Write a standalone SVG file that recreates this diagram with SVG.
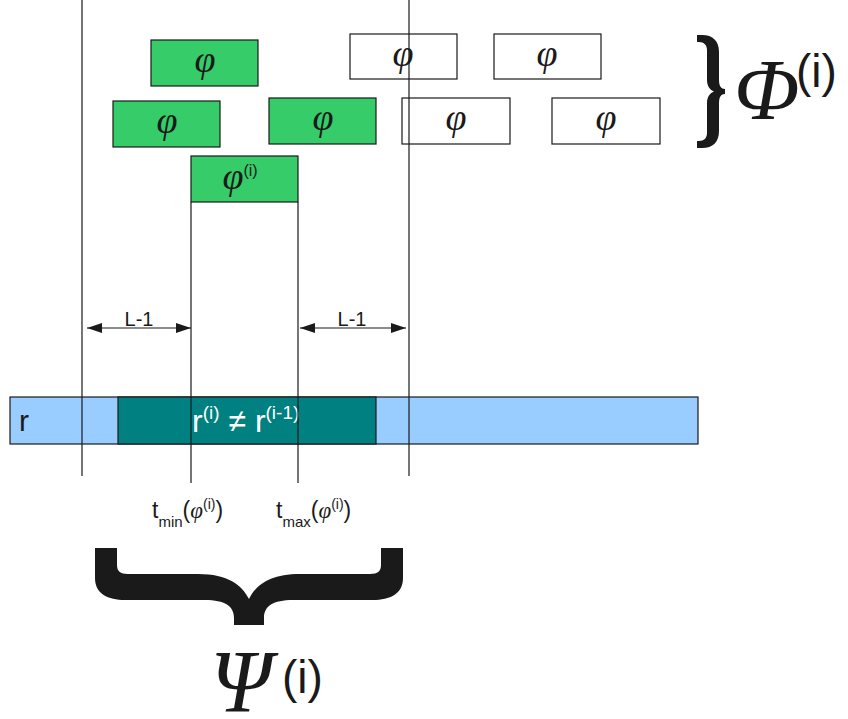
<svg xmlns="http://www.w3.org/2000/svg" width="848" height="719" viewBox="0 0 848 719">
<defs>
<style>
.g{fill:#35cc69;stroke:#1a1a1a;stroke-width:1.2}
.w{fill:#ffffff;stroke:#1a1a1a;stroke-width:1.2}
.phi{font-family:"Liberation Serif",serif;font-style:italic;font-size:38px;fill:#1a1a1a;text-anchor:middle}
.sans{font-family:"Liberation Sans",Arial,sans-serif;fill:#1a1a1a}
.ln{stroke:#1a1a1a;stroke-width:1.2;fill:none}
.br{fill:#1a1a1a}
</style>
<marker id="ah" viewBox="0 0 15 10" refX="15" refY="5" markerWidth="15" markerHeight="10" markerUnits="userSpaceOnUse" orient="auto-start-reverse">
<path d="M0,0 L15,5 L0,10 Z" fill="#1a1a1a"/>
</marker>
</defs>
<rect width="848" height="719" fill="#ffffff"/>

<g id="bar-r">
<rect x="10" y="397" width="688" height="47" fill="#99ccff" stroke="#1a1a1a" stroke-width="1.2"/>
<text x="19" y="431" class="sans" font-size="30">r</text>
</g>
<g id="bar-changed">
<rect x="118" y="397" width="258" height="47" fill="#008080" stroke="#1a1a1a" stroke-width="1.2"/>
<text x="192" y="432" class="sans" font-size="32" style="fill:#ffffff">r<tspan font-size="19" dy="-13">(i)</tspan><tspan dy="13"> ≠ r</tspan><tspan font-size="19" dy="-13">(i-1)</tspan></text>
</g>

<g id="box-1"><rect class="g" x="151" y="40" width="107" height="46"/><text class="phi" x="205" y="72">φ</text></g>
<g id="box-2"><rect class="g" x="113" y="101" width="107" height="46"/><text class="phi" x="167" y="133">φ</text></g>
<g id="box-3"><rect class="g" x="269" y="98" width="107" height="46"/><text class="phi" x="323" y="130">φ</text></g>
<g id="box-phi-i"><rect class="g" x="191" y="156" width="107" height="46"/><text class="phi" x="240" y="189">φ<tspan class="sans" font-style="normal" font-size="16" dy="-13">(i)</tspan></text></g>
<g id="box-4"><rect class="w" x="350" y="34" width="107" height="45"/><text class="phi" x="403" y="66">φ</text></g>
<g id="box-5"><rect class="w" x="494" y="34" width="107" height="45"/><text class="phi" x="547" y="66">φ</text></g>
<g id="box-6"><rect class="w" x="402" y="98" width="108" height="46"/><text class="phi" x="456" y="130">φ</text></g>
<g id="box-7"><rect class="w" x="552" y="98" width="108" height="46"/><text class="phi" x="606" y="130">φ</text></g>

<g id="connectors">
<line class="ln" x1="82" y1="0" x2="82" y2="476"/>
<line class="ln" x1="409" y1="0" x2="409" y2="476"/>
<line class="ln" x1="191" y1="202" x2="191" y2="483"/>
<line class="ln" x1="298" y1="202" x2="298" y2="483"/>
<line class="ln" x1="87" y1="328" x2="191" y2="328" marker-start="url(#ah)" marker-end="url(#ah)"/>
<line class="ln" x1="300" y1="328" x2="406" y2="328" marker-start="url(#ah)" marker-end="url(#ah)"/>
</g>

<g id="labels">
<text class="sans" x="139" y="326" font-size="20" text-anchor="middle">L-1</text>
<text class="sans" x="352" y="326" font-size="20" text-anchor="middle">L-1</text>
<text class="sans" x="152" y="518" font-size="23">t<tspan font-size="15" dy="9">min</tspan><tspan dy="-9">(</tspan><tspan font-family="Liberation Serif" font-style="italic">φ</tspan><tspan font-size="14" dy="-9">(i)</tspan><tspan dy="9">)</tspan></text>
<text class="sans" x="276" y="518" font-size="23">t<tspan font-size="15" dy="9">max</tspan><tspan dy="-9">(</tspan><tspan font-family="Liberation Serif" font-style="italic">φ</tspan><tspan font-size="14" dy="-9">(i)</tspan><tspan dy="9">)</tspan></text>
</g>

<g id="phi-set">
<path class="br" d="M697,35 L702,35 C713,35 719,41 719,52 L719,80 C719,86 721,89 725,89 L725,94 C721,94 719,97 719,103 L719,131 C719,142 713,148 702,148 L697,148 L697,141 L699,141 C704,141 707,138 707,133 L707,103 C707,97 710,93 714,91.5 C710,90 707,86 707,80 L707,50 C707,45 704,42 699,42 L697,42 Z"/>
<text x="734" y="119" font-family="Liberation Serif,serif" font-style="italic" font-size="86" fill="#1a1a1a">Φ</text>
<text x="796" y="87" class="sans" font-size="46">(i)</text>
</g>

<g id="psi-set">
<path class="br" d="M95,548 L95,578 C95,594 108,600 125,600 L205,600 C225,600 234,606 234,618 L234,625 L264,625 L264,618 C264,606 273,600 293,600 L373,600 C390,600 403,594 403,578 L403,548 L381,548 L381,565 C381,571 378,574 370,574 L300,574 C270,574 256,585 249,599 C242,585 228,574 198,574 L128,574 C120,574 117,571 117,565 L117,548 Z"/>
<text x="210" y="711" font-family="Liberation Serif,serif" font-style="italic" font-size="88" fill="#1a1a1a">Ψ</text>
<text x="282" y="693" class="sans" font-size="46">(i)</text>
</g>
</svg>
